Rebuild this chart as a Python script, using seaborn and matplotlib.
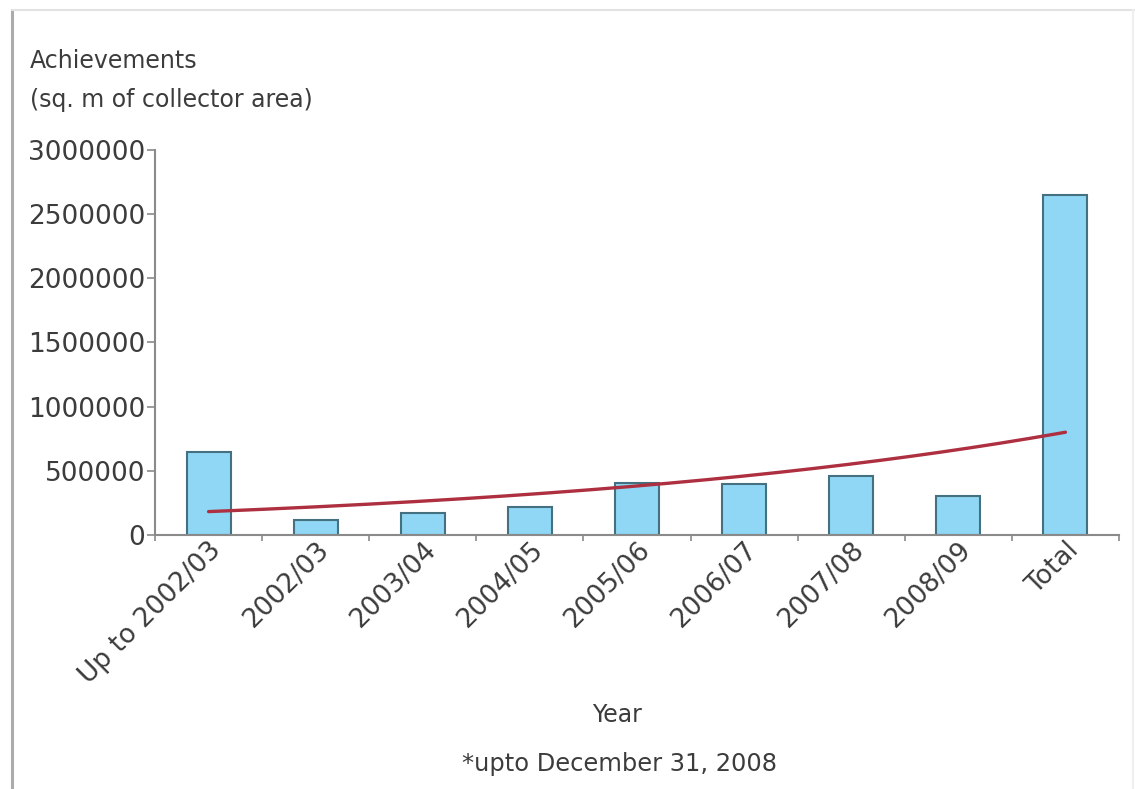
import numpy as np
import pandas as pd
import matplotlib
matplotlib.use("Agg")
import matplotlib.pyplot as plt
from matplotlib.lines import Line2D
from matplotlib.ticker import FixedLocator
import seaborn as sns

# Solar water heating collector area installed per year (sq. m)
years = ["Up to 2002/03", "2002/03", "2003/04", "2004/05", "2005/06",
         "2006/07", "2007/08", "2008/09", "Total"]
achievements = [645000, 115000, 175000, 222000, 405000,
                400000, 460000, 305000, 2650000]
y_ticks = [0, 500000, 1000000, 1500000, 2000000, 2500000, 3000000]

sns.set_theme(style="white")
plt.rcParams["font.family"] = ["DejaVu Sans"]

TEXT = "#3c3c3c"
AXIS = "#8a8a8a"

fig = plt.figure(figsize=(11.35, 7.89), dpi=100)
ax = fig.add_axes([0.13656, 0.32193, 0.84934, 0.48796])

df = pd.DataFrame({"Year": years, "Area": achievements})
sns.barplot(data=df, x="Year", y="Area", ax=ax, color="#8fd7f5",
            saturation=1, width=0.41, edgecolor="#44707f", linewidth=1.5)

# Exponential trendline fitted through all categories
pos = np.arange(len(achievements), dtype=float)
slope, intercept = np.polyfit(pos, np.log(achievements), 1)
xs = np.linspace(pos[0], pos[-1], 200)
sns.lineplot(x=xs, y=np.exp(intercept + slope * xs), ax=ax,
             color="#ad2f40", linewidth=2.4, zorder=5)

ax.set_xlim(-0.5, len(years) - 0.5)
ax.set_ylim(0, 3000000)
ax.set_yticks(y_ticks)
ax.set_yticklabels([str(v) for v in y_ticks], fontsize=19, color=TEXT)
ax.set_xticks(pos)
ax.set_xticklabels(years, fontsize=19, color=TEXT, rotation=45,
                   ha="right", va="top", rotation_mode="anchor")
ax.xaxis.set_minor_locator(FixedLocator(np.arange(-0.5, len(years), 1.0)))
ax.tick_params(axis="x", which="major", length=0, pad=1.5)
ax.tick_params(axis="x", which="minor", bottom=True, length=4,
               width=1.2, color=AXIS, direction="out")
ax.tick_params(axis="y", which="major", left=True, length=6, width=1.2,
               color=AXIS, pad=1, direction="out")
ax.set_xlabel("")
ax.set_ylabel("")
ax.grid(False)

for side in ("top", "right"):
    ax.spines[side].set_visible(False)
for side in ("left", "bottom"):
    ax.spines[side].set_color(AXIS)
    ax.spines[side].set_linewidth(1.5)

# Axis titles and footnote
fig.text(30 / 1135, 1 - 61 / 789, "Achievements", fontsize=17,
         color=TEXT, ha="left", va="center")
fig.text(30 / 1135, 1 - 100 / 789, "(sq. m of collector area)", fontsize=17,
         color=TEXT, ha="left", va="center")
fig.text(617 / 1135, 1 - 715 / 789, "Year", fontsize=17,
         color=TEXT, ha="center", va="center")
fig.text(620 / 1135, 1 - 764 / 789, "*upto December 31, 2008", fontsize=17.4,
         color=TEXT, ha="center", va="center")

# Page frame around the chart
fig.add_artist(Line2D([12 / 1135, 12 / 1135], [0, 1 - 10 / 789],
                      transform=fig.transFigure, color="#ababab", lw=2.2))
fig.add_artist(Line2D([12 / 1135, 1], [1 - 10 / 789, 1 - 10 / 789],
                      transform=fig.transFigure, color="#e2e2e2", lw=1.5))
fig.add_artist(Line2D([1133 / 1135, 1133 / 1135], [0, 1 - 10 / 789],
                      transform=fig.transFigure, color="#efefef", lw=1.5))

fig.savefig("out.png", dpi=100, facecolor="white")
